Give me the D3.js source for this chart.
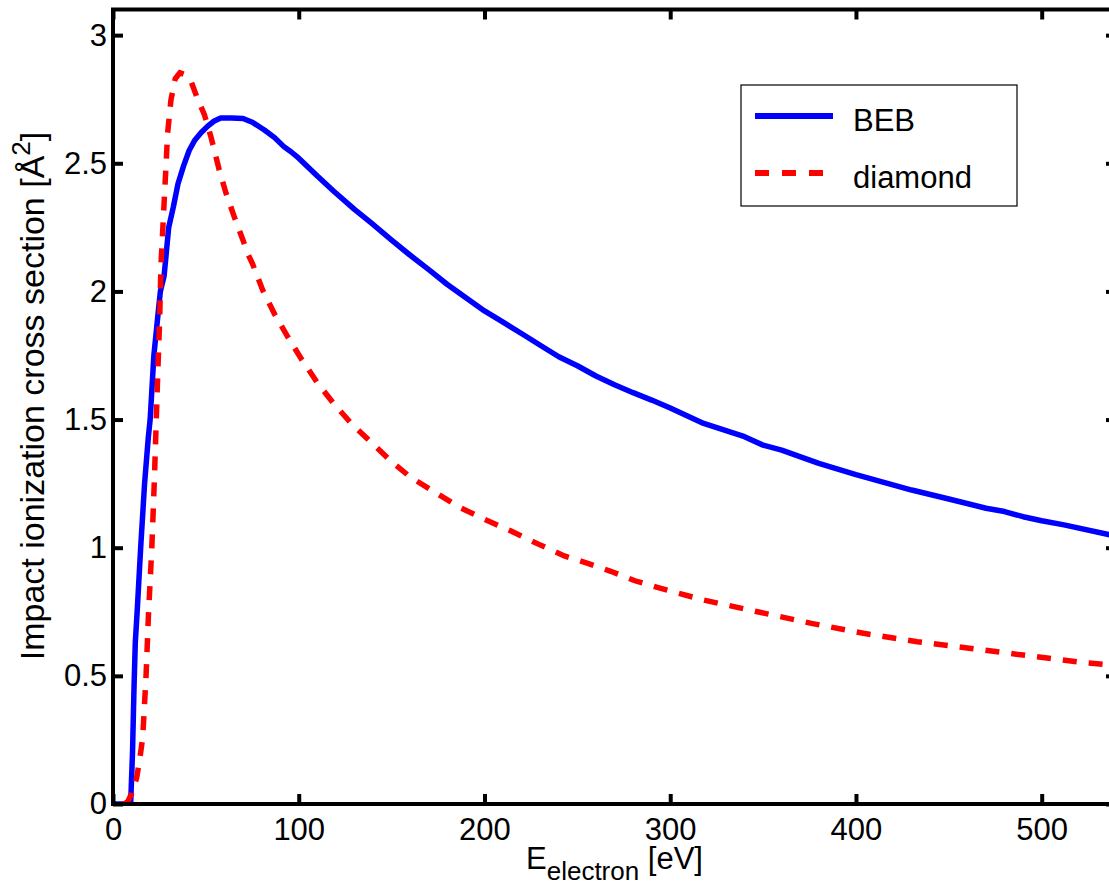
<!DOCTYPE html>
<html>
<head>
<meta charset="utf-8">
<script src="https://cdn.jsdelivr.net/npm/d3@7"></script>
<style>
  html, body { margin: 0; padding: 0; background: #fff; overflow: hidden; }
  text { font-family: "Liberation Sans", Arial, Helvetica, sans-serif; fill: #000; }
</style>
</head>
<body>
<svg id="chart"></svg>
<script>
// energy grid (eV) and cross sections (A^2)
const bebE = [0, 9.5, 10.5, 11.3, 12, 13, 14.9, 17, 19, 20, 22, 24.5, 25.5, 27.5, 30, 32.5, 35, 38, 41, 44, 47.5, 51, 54.5, 58, 64, 70, 75, 81.5, 87, 92, 96, 100, 110, 119, 130, 139, 150, 159, 170, 180, 190, 200, 210, 221, 230, 240, 250, 260, 270, 280, 290, 300, 318, 340, 350, 360, 380, 400, 430, 450, 470, 480, 490, 500, 512, 540];
const bebS = [0, 0, 0.2, 0.45, 0.63, 0.75, 1.0, 1.25, 1.43, 1.5, 1.75, 1.93, 2.0, 2.06, 2.25, 2.33, 2.42, 2.49, 2.55, 2.59, 2.62, 2.645, 2.665, 2.677, 2.677, 2.675, 2.66, 2.63, 2.6, 2.565, 2.544, 2.52, 2.45, 2.39, 2.32, 2.267, 2.2, 2.147, 2.085, 2.027, 1.975, 1.924, 1.88, 1.831, 1.79, 1.745, 1.71, 1.67, 1.636, 1.605, 1.576, 1.545, 1.485, 1.433, 1.4, 1.381, 1.329, 1.285, 1.225, 1.19, 1.154, 1.141, 1.121, 1.105, 1.089, 1.045];

const diaE = [6, 8, 10, 12.7, 14.5, 16, 17.8, 19.1, 20.9, 22.2, 23.3, 24.2, 25.1, 25.8, 27.6, 29.4, 31.2, 33.5, 36, 39, 42, 45.6, 49.2, 52.7, 57.2, 60.8, 65.3, 70, 72.5, 75, 80.6, 86.8, 94, 101, 110, 119, 128, 139, 150, 160, 175, 187, 200, 214, 229, 243, 256, 268, 281, 295, 318, 347, 376, 404, 433, 462, 490, 519, 540];
const diaS = [0, 0.01, 0.04, 0.1, 0.18, 0.26, 0.5, 0.74, 1.0, 1.25, 1.5, 1.7, 1.885, 2.1, 2.357, 2.617, 2.747, 2.83, 2.853, 2.845, 2.82, 2.75, 2.69, 2.604, 2.474, 2.384, 2.291, 2.2, 2.148, 2.11, 2.005, 1.914, 1.824, 1.741, 1.644, 1.561, 1.487, 1.411, 1.336, 1.276, 1.209, 1.156, 1.111, 1.066, 1.014, 0.968, 0.938, 0.908, 0.871, 0.841, 0.796, 0.75, 0.705, 0.666, 0.633, 0.607, 0.581, 0.555, 0.54];

const xTicks = [0, 100, 200, 300, 400, 500];
const yTicks = [0, 0.5, 1, 1.5, 2, 2.5, 3];
const seriesNames = ['BEB', 'diamond'];

const W = 1109, H = 886;
const pl = 113, pr = 1116, pt = 9.5, pb = 804;

const svg = d3.select('#chart').attr('width', W).attr('height', H);

const x = d3.scaleLinear().domain([0, 540]).range([pl, pr]);
const y = d3.scaleLinear().domain([0, 3.1]).range([pb, pt]);

svg.append('defs').append('clipPath').attr('id', 'plot')
  .append('rect').attr('x', pl).attr('y', pt).attr('width', pr - pl).attr('height', pb - pt);

// curves
const line = d3.line().x(d => x(d[0])).y(d => y(d[1]));
const beb = bebE.map((e, i) => [e, bebS[i]]);
const dia = diaE.map((e, i) => [e, diaS[i]]);

const plot = svg.append('g').attr('clip-path', 'url(#plot)');
plot.append('path').attr('d', line(beb)).attr('fill', 'none')
  .attr('stroke', '#0000ff').attr('stroke-width', 5.5).attr('stroke-linejoin', 'round');
plot.append('path').attr('d', line(dia)).attr('fill', 'none')
  .attr('stroke', '#ff0000').attr('stroke-width', 5.5).attr('stroke-dasharray', '14,12');

// axes, ticks pointing inwards
const styleAxis = g => {
  g.select('.domain').remove();
  g.selectAll('.tick line').attr('stroke', '#000').attr('stroke-width', 4);
  g.selectAll('.tick text').attr('font-size', 31).attr('fill', '#000');
};
svg.append('g').attr('transform', `translate(0,${pb})`)
  .call(d3.axisBottom(x).tickValues(xTicks).tickSizeInner(-10).tickSizeOuter(0).tickPadding(14))
  .call(styleAxis);
svg.append('g').attr('transform', `translate(0,${pt})`)
  .call(d3.axisTop(x).tickValues(xTicks).tickSizeInner(-10).tickSizeOuter(0).tickFormat(''))
  .call(styleAxis);
svg.append('g').attr('transform', `translate(${pl},0)`)
  .call(d3.axisLeft(y).tickValues(yTicks).tickSizeInner(-10).tickSizeOuter(0).tickPadding(6).tickFormat(d3.format('~g')))
  .call(styleAxis);
svg.append('g').attr('transform', `translate(${pr},0)`)
  .call(d3.axisRight(y).tickValues(yTicks).tickSizeInner(-10).tickSizeOuter(0).tickFormat(''))
  .call(styleAxis);

svg.append('rect').attr('x', pl).attr('y', pt).attr('width', pr - pl).attr('height', pb - pt)
  .attr('fill', 'none').attr('stroke', '#000').attr('stroke-width', 4);

// axis labels
const xl = svg.append('text').attr('x', (pl + pr) / 2).attr('y', 869)
  .attr('text-anchor', 'middle').attr('font-size', 31);
xl.append('tspan').text('E');
xl.append('tspan').attr('font-size', 26).attr('dy', 11).text('electron');
xl.append('tspan').attr('dy', -11).text(' [eV]');

const yl = svg.append('text')
  .attr('transform', 'translate(44,396) rotate(-90)')
  .attr('text-anchor', 'middle').attr('font-size', 34);
yl.append('tspan').text('Impact ionization cross section [Å');
yl.append('tspan').attr('font-size', 26).attr('dy', -14).text('2');
yl.append('tspan').attr('dy', 14).text(']');

// legend
const lg = svg.append('g');
lg.append('rect').attr('x', 741).attr('y', 85).attr('width', 276).attr('height', 121)
  .attr('fill', '#fff').attr('stroke', '#000').attr('stroke-width', 1.2);
const legendRows = [
  { name: seriesNames[0], color: '#0000ff', dash: null, yy: 116 },
  { name: seriesNames[1], color: '#ff0000', dash: '14,13', yy: 173 }
];
legendRows.forEach(r => {
  lg.append('line').attr('x1', 755).attr('x2', r.dash ? 823 : 833).attr('y1', r.yy).attr('y2', r.yy)
    .attr('stroke', r.color).attr('stroke-width', 6).attr('stroke-dasharray', r.dash);
  lg.append('text').attr('x', 853).attr('y', r.yy + 15).attr('font-size', 31).text(r.name);
});
</script>
</body>
</html>
